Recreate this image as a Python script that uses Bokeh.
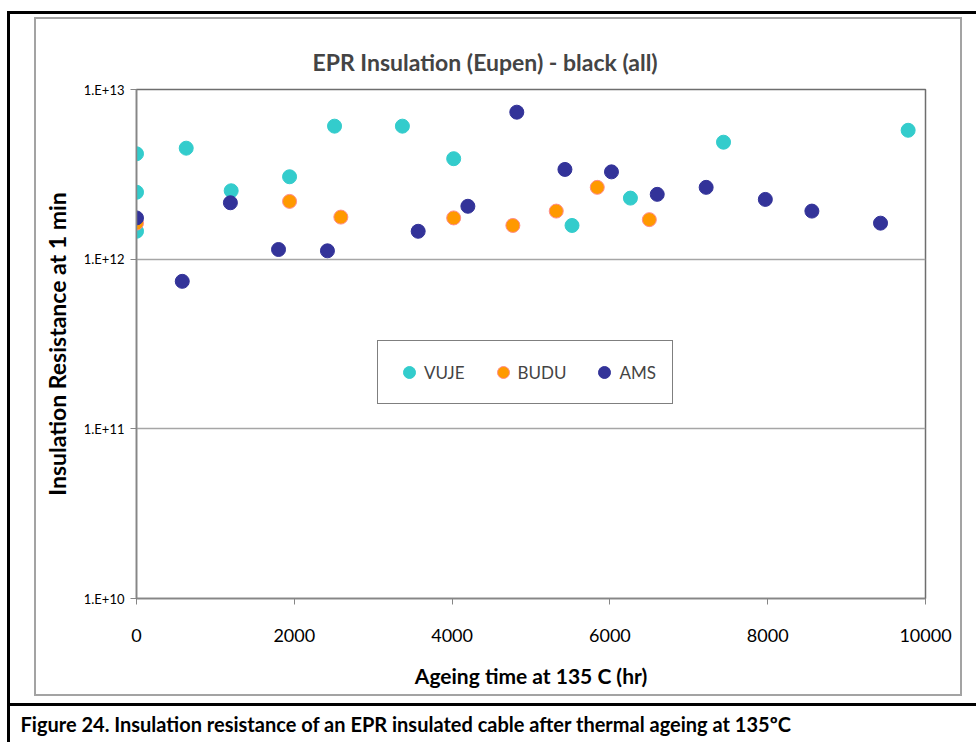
from bokeh.plotting import figure
from bokeh.models import (FixedTicker, CustomJSTickFormatter, Title, Legend, LegendItem,
                          Range1d, InlineStyleSheet)
from bokeh.embed import file_html
from bokeh.resources import INLINE

# ---------------- data ----------------
vuje_hours = [0, 0, 0, 630, 1200, 1940, 2510, 3370, 4020, 5520, 6260, 7440, 9780]
vuje_ir = [4.18e12, 2.48e12, 1.46e12, 4.51e12, 2.53e12, 3.06e12, 6.08e12, 6.08e12,
           3.91e12, 1.58e12, 2.29e12, 4.89e12, 5.75e12]

budu_hours = [0, 1940, 2590, 4020, 4770, 5320, 5840, 6500]
budu_ir = [1.63e12, 2.19e12, 1.77e12, 1.75e12, 1.58e12, 1.92e12, 2.65e12, 1.71e12]

ams_hours = [0, 580, 1190, 1800, 2420, 3570, 4200, 4820, 5430, 6020, 6600, 7220, 7970, 8560, 9430]
ams_ir = [1.75e12, 7.4e11, 2.15e12, 1.14e12, 1.12e12, 1.46e12, 2.05e12, 7.35e12, 3.38e12,
          3.27e12, 2.41e12, 2.65e12, 2.25e12, 1.92e12, 1.63e12]

x_ticks = [0, 2000, 4000, 6000, 8000, 10000]
y_ticks = [1e10, 1e11, 1e12, 1e13]

title_text = "EPR Insulation (Eupen) - black (all)"
x_label = "Ageing time at 135 C (hr)"
y_label = "Insulation Resistance at 1 min"
caption = "Figure 24. Insulation resistance of an EPR insulated cable after thermal ageing at 135ºC"

# ---------------- layout (pixels) ----------------
W, H = 976, 742
FL, FR, FT, FB = 136, 925, 89, 598  # frame edges

FONT = "Lato"

# decorative frames drawn with CSS (chart-area box and outer document frame)
css = """
:host { position: relative; }
:host::before {
  content: ""; position: absolute; left: 34px; top: 17px; width: 928px; height: 679px;
  border: 2px solid #a3a3a3; box-sizing: border-box; pointer-events: none; z-index: 5;
}
:host::after {
  content: ""; position: absolute; left: 7px; top: 11px; right: 0px; bottom: 0px;
  border-left: 3px solid #000; border-top: 3px solid #000; box-sizing: border-box;
  background: linear-gradient(#000, #000) no-repeat; background-size: 100% 3px;
  background-position: 0px 689px; pointer-events: none; z-index: 5;
}
"""

p = figure(width=W, height=H, output_backend="svg", toolbar_location=None,
           y_axis_type="log", x_range=Range1d(0, 10000), y_range=Range1d(1e10, 1e13),
           min_border_left=FL, min_border_right=W - FR, min_border_top=FT, min_border_bottom=H - FB,
           background_fill_color="white", border_fill_color="white",
           stylesheets=[InlineStyleSheet(css=css)])

p.outline_line_color = "#6e6e6e"
p.outline_line_width = 1.5

# title
p.title.text = title_text
p.title.text_font = FONT
p.title.text_font_size = "23px"
p.title.text_font_style = "bold"
p.title.align = "left"
p.title.offset = 176
p.title.standoff = 28

# axes
p.xaxis.ticker = FixedTicker(ticks=x_ticks)
p.yaxis.ticker = FixedTicker(ticks=y_ticks)
p.yaxis.formatter = CustomJSTickFormatter(code="return '1.E+' + Math.round(Math.log10(tick));")
for ax in (p.xaxis[0], p.yaxis[0]):
    ax.axis_line_color = "#868686"
    ax.axis_line_width = 1.5
    ax.major_tick_line_color = "#868686"
    ax.major_tick_in = 0
    ax.major_tick_out = 6
    ax.minor_tick_line_color = None
    ax.major_label_text_font = FONT
    ax.major_label_text_color = "black"
    ax.axis_label_text_font = FONT
    ax.axis_label_text_font_style = "bold"
    ax.axis_label_text_color = "black"
p.xaxis.major_label_text_font_size = "18px"
p.xaxis.major_label_standoff = 24
p.xaxis.axis_label = x_label
p.xaxis.axis_label_text_font_size = "21px"
p.xaxis.axis_label_standoff = 18
p.yaxis.major_label_text_font_size = "13px"
p.yaxis.major_label_standoff = 6
p.yaxis.axis_label = y_label
p.yaxis.axis_label_text_font_size = "23px"
p.yaxis.axis_label_standoff = 10

p.xgrid.grid_line_color = None
p.ygrid.grid_line_color = "#a6a6a6"
p.ygrid.grid_line_width = 1.5

# points
r_vuje = p.scatter(vuje_hours, vuje_ir, size=14, fill_color="#33CCCC", line_color="#33CCCC")
r_budu = p.scatter(budu_hours, budu_ir, size=14, fill_color="#FF9900", line_color="#FF8C8C", line_width=1)
r_ams = p.scatter(ams_hours, ams_ir, size=14, fill_color="#333399", line_color="#333399")

legend = Legend(items=[LegendItem(label="VUJE", renderers=[r_vuje]),
                       LegendItem(label="BUDU", renderers=[r_budu]),
                       LegendItem(label="AMS", renderers=[r_ams])],
                orientation="horizontal", location=(377 - FL, FB - 404),
                border_line_color="black", border_line_width=1.2,
                label_text_font=FONT, label_text_font_size="17px",
                glyph_width=30, glyph_height=30, label_height=20, label_standoff=0, spacing=23,
                padding=16, margin=0, background_fill_alpha=1)
p.add_layout(legend, "center")

# caption below the chart (extra room above it through padding)
cap = Title(text=caption, text_font=FONT, text_font_size="20px", text_font_style="bold",
            align="left", offset=20 - FL, standoff=12, text_color="black")
gap_set = False
if "padding" in Title.properties():
    for pad in (dict(left=0, right=0, top=13, bottom=0), (0, 0, 13, 0)):
        try:
            cap.padding = pad
            gap_set = True
            break
        except Exception:
            pass
p.add_layout(cap, "below")

open("out.html", "w").write(file_html(p, INLINE))
